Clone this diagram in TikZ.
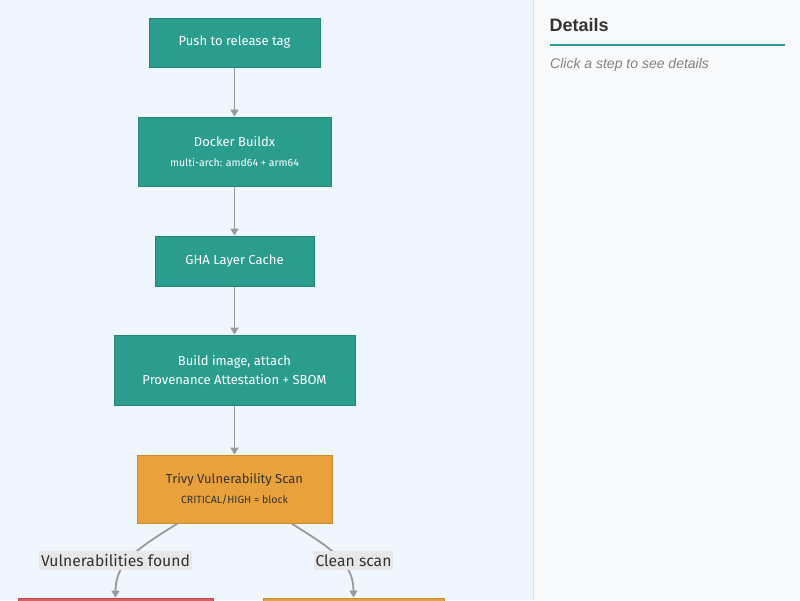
\documentclass[tikz,border=0pt]{standalone}
\usepackage{fontspec}
\setmainfont{Fira Sans}
\newfontfamily\panelfont{Liberation Sans}
\usetikzlibrary{arrows.meta}
\definecolor{leftbg}{HTML}{EFF6FD}
\definecolor{rightbg}{HTML}{F7F9FB}
\definecolor{divider}{HTML}{D6E0EA}
\definecolor{teal}{HTML}{2A9D8F}
\definecolor{tealdark}{HTML}{23857A}
\definecolor{orangef}{HTML}{E9A23B}
\definecolor{oranged}{HTML}{CB8A2E}
\definecolor{redf}{HTML}{E05D5D}
\definecolor{redd}{HTML}{C04848}
\definecolor{edgegray}{HTML}{999999}
\definecolor{darktext}{HTML}{333333}
\definecolor{labelbg}{HTML}{E8E8E8}
\newcommand{\subline}[1]{{\fontsize{10.5}{12}\selectfont #1}}
\tikzset{
  stepbox/.style={draw=tealdark, fill=teal, line width=1pt, text=white, align=center, inner sep=0pt, font=\fontsize{13}{20}\selectfont},
  scanbox/.style={draw=oranged, fill=orangef, line width=1pt, text=darktext, align=center, inner sep=0pt, font=\fontsize{13}{20}\selectfont},
  failbox/.style={draw=redd, fill=redf, line width=1pt, inner sep=0pt},
  flow/.style={draw=edgegray, line width=1.8pt, -{Triangle[width=8pt,length=7pt]}},
  edgelabel/.style={fill=labelbg, text=darktext, inner xsep=2pt, inner ysep=3.5pt, font=\fontsize{15.7}{18}\selectfont}
}
\begin{document}
\begin{tikzpicture}[x=1pt,y=-1pt]
\useasboundingbox (0,0) rectangle (800,600);
\clip (0,0) rectangle (800,600);
\fill[leftbg] (0,0) rectangle (533,600);
\fill[rightbg] (533,0) rectangle (800,600);
\draw[divider, line width=1pt] (533.5,0) -- (533.5,600);

\node[stepbox, minimum width=171pt, minimum height=49pt] (push) at (234.5,42.5) {Push to release tag};
\node[stepbox, minimum width=193pt, minimum height=69pt] (buildx) at (234.5,151.5) {Docker Buildx\\[0pt]\subline{multi-arch: amd64 + arm64}};
\node[stepbox, minimum width=159pt, minimum height=50pt] (cache) at (234.5,261) {GHA Layer Cache};
\node[stepbox, minimum width=241pt, minimum height=70pt] (build) at (234.5,370) {Build image, attach\\Provenance Attestation + SBOM};
\node[scanbox, minimum width=195pt, minimum height=68pt] (trivy) at (234.5,489) {Trivy Vulnerability Scan\\[0pt]\subline{CRITICAL/HIGH = block}};
\node[failbox, anchor=north, minimum width=195pt, minimum height=40pt] (fail) at (115.5,597.5) {};
\node[scanbox, anchor=north, minimum width=181pt, minimum height=40pt] (pass) at (353.5,597.5) {};

\draw[flow] (push) -- (buildx);
\draw[flow] (buildx) -- (cache);
\draw[flow] (cache) -- (build);
\draw[flow] (build) -- (trivy);
\draw[flow] ([xshift=-57pt]trivy.south) .. controls +(-40,25) and +(0,-35) .. (fail.north);
\draw[flow] ([xshift=57pt]trivy.south) .. controls +(40,25) and +(0,-35) .. (pass.north);

\node[edgelabel] (lblfail) at (115.5,560.5) {Vulnerabilities found};
\node[edgelabel] (lblpass) at (353.5,560.5) {Clean scan};

\node[anchor=base west, inner sep=0pt, text=darktext, font=\panelfont\bfseries\fontsize{18}{20}\selectfont] (dhead) at (549.5,31) {Details};
\draw[teal, line width=2pt] (550,44.5) -- (785,44.5);
\node[anchor=base west, inner sep=0pt, text=edgegray!85!black, font=\panelfont\itshape\fontsize{14}{16}\selectfont] (dtext) at (550,68) {Click a step to see details};
\end{tikzpicture}
\end{document}
